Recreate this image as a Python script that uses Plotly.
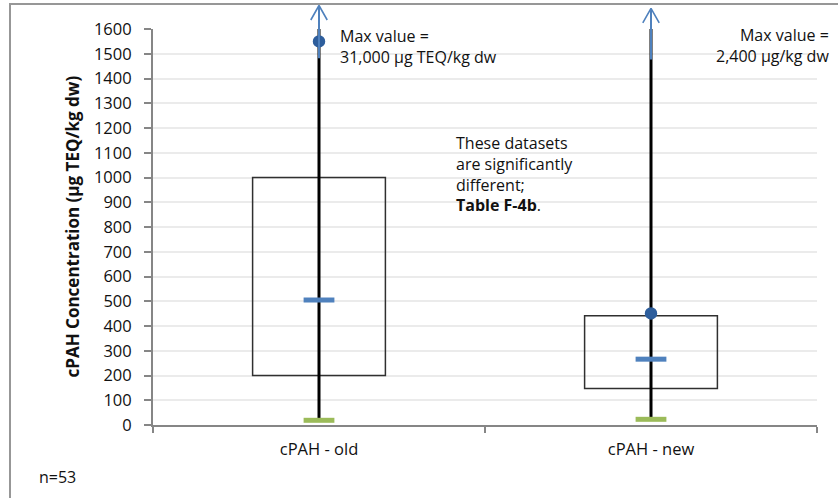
import plotly.graph_objects as go

# Summary statistics for the two cPAH datasets (µg TEQ/kg dw)
categories = ["cPAH - old", "cPAH - new"]
q1 = [200, 147]
q3 = [1000, 441]
median = [505, 266]
minimum = [19, 23]
maximum = [31000, 2400]
mean = [1550, 451]
# Upward arrows flag maxima that lie above the axis range
arrow_from = [1480, 1475]
arrow_to = [1695, 1683]
y_ticks = list(range(0, 1601, 100))
Y_RANGE = [0, 1600]

FONT = "'Open Sans', Lato, sans-serif"
BLUE = "#4F81BD"
GREEN = "#9BBB59"
DARK_BLUE = "#2E5E9C"
AXIS_GREY = "#868686"
TEXT = "#111111"

# Open arrowhead: pixel offsets of each arm end from the tip
HEAD_DX, HEAD_DY = 8.5, 15

fig = go.Figure()

# Interquartile boxes (unfilled)
fig.add_trace(go.Bar(
    x=categories, y=[b - a for a, b in zip(q1, q3)], base=q1, width=0.4,
    marker=dict(color="rgba(0,0,0,0)", line=dict(color="#303030", width=1.5)),
    hoverinfo="skip", showlegend=False,
))

# Whiskers from minimum to maximum (clipped at the top of the axis)
wx, wy = [], []
for c, lo, hi in zip(categories, minimum, maximum):
    wx += [c, c, None]
    wy += [lo, hi, None]
fig.add_trace(go.Scatter(
    x=wx, y=wy, mode="lines", line=dict(color="black", width=3),
    hoverinfo="skip", showlegend=False,
))

# Minimum markers
fig.add_trace(go.Scatter(
    x=categories, y=minimum, mode="markers",
    marker=dict(symbol="line-ew", size=22, line=dict(color=GREEN, width=5)),
    showlegend=False,
))
# Median markers
fig.add_trace(go.Scatter(
    x=categories, y=median, mode="markers",
    marker=dict(symbol="line-ew", size=22, line=dict(color=BLUE, width=5)),
    showlegend=False,
))
# Mean markers
fig.add_trace(go.Scatter(
    x=categories, y=mean, mode="markers",
    marker=dict(symbol="circle", size=11, color=DARK_BLUE,
                line=dict(color=DARK_BLUE, width=1.5)),
    showlegend=False, cliponaxis=False,
))


def y_to_paper(v):
    """Value on the y axis -> paper fraction (the tips sit above the range)."""
    return (v - Y_RANGE[0]) / (Y_RANGE[1] - Y_RANGE[0])


annotations = []
for i, (a0, a1) in enumerate(zip(arrow_from, arrow_to)):
    # shaft
    annotations.append(dict(
        x=i, y=a1, xref="x", yref="y", ax=i, ay=a0, axref="x", ayref="y",
        text="", showarrow=True, arrowhead=0, arrowwidth=2,
        arrowcolor=BLUE, standoff=0, startstandoff=0,
        font=dict(size=1), borderpad=0,
    ))
    # two arms of the open head
    for side in (-1, 1):
        annotations.append(dict(
            x=i, y=y_to_paper(a1), xref="x", yref="paper",
            ax=side * HEAD_DX, ay=HEAD_DY, axref="pixel", ayref="pixel",
            text="", showarrow=True, arrowhead=0, arrowwidth=1.6,
            arrowcolor=BLUE, standoff=0, startstandoff=0,
            font=dict(size=1), borderpad=0,
        ))

PX0, PW, PY0, PH = 153, 664, 425, 396


def px(xp):
    return (xp - PX0) / PW


def py(yp):
    return (PY0 - yp) / PH


text_font = dict(family=FONT, size=16, color=TEXT)
annotations += [
    dict(x=px(338), y=py(46.5), xref="paper", yref="paper",
         text="Max value =<br>31,000 µg TEQ/kg dw", showarrow=False,
         xanchor="left", yanchor="middle", align="left", font=text_font),
    dict(x=px(831), y=py(45), xref="paper", yref="paper",
         text="Max value =<br>2,400 µg/kg dw", showarrow=False,
         xanchor="right", yanchor="middle", align="right", font=text_font),
    dict(x=px(454), y=py(173.5), xref="paper", yref="paper",
         text="These datasets<br>are significantly<br>different;<br><b>Table F-4b</b>.",
         showarrow=False, xanchor="left", yanchor="middle", align="left",
         font=text_font),
    dict(x=px(37), y=py(477), xref="paper", yref="paper", text="n=53",
         showarrow=False, xanchor="left", yanchor="middle", font=text_font),
    dict(x=px(72), y=py(226.5), xref="paper", yref="paper",
         text="<b>cPAH Concentration (µg TEQ/kg dw)</b>", textangle=-90,
         showarrow=False, xanchor="center", yanchor="middle",
         font=dict(family=FONT, size=17, color=TEXT)),
]

fig.update_layout(
    width=838, height=498,
    margin=dict(l=PX0, r=838 - PX0 - PW, t=PY0 - PH, b=498 - PY0),
    paper_bgcolor="white", plot_bgcolor="white",
    font=dict(family=FONT, size=16, color=TEXT),
    barmode="overlay",
    annotations=annotations,
    shapes=[dict(type="rect", xref="paper", yref="paper",
                 x0=px(10), x1=px(900), y0=py(600), y1=py(4),
                 line=dict(color="#979797", width=2), layer="below")],
)
fig.update_xaxes(
    type="category", range=[-0.5, 1.5], tickson="boundaries",
    ticks="outside", ticklen=6, tickwidth=2, tickcolor=AXIS_GREY,
    showline=True, linecolor=AXIS_GREY, linewidth=2, showgrid=False,
    ticklabelstandoff=8,
    tickfont=dict(family=FONT, size=16.5, color=TEXT),
)
fig.update_yaxes(
    range=Y_RANGE, tickvals=y_ticks, ticks="outside", ticklen=7,
    tickwidth=2, tickcolor=AXIS_GREY, showline=True, linecolor=AXIS_GREY,
    linewidth=2, showgrid=True, gridcolor="#ebebeb", gridwidth=1.5,
    zeroline=False, ticklabelstandoff=9,
    tickfont=dict(family=FONT, size=16.5, color=TEXT),
)

fig.write_html("out.html")
